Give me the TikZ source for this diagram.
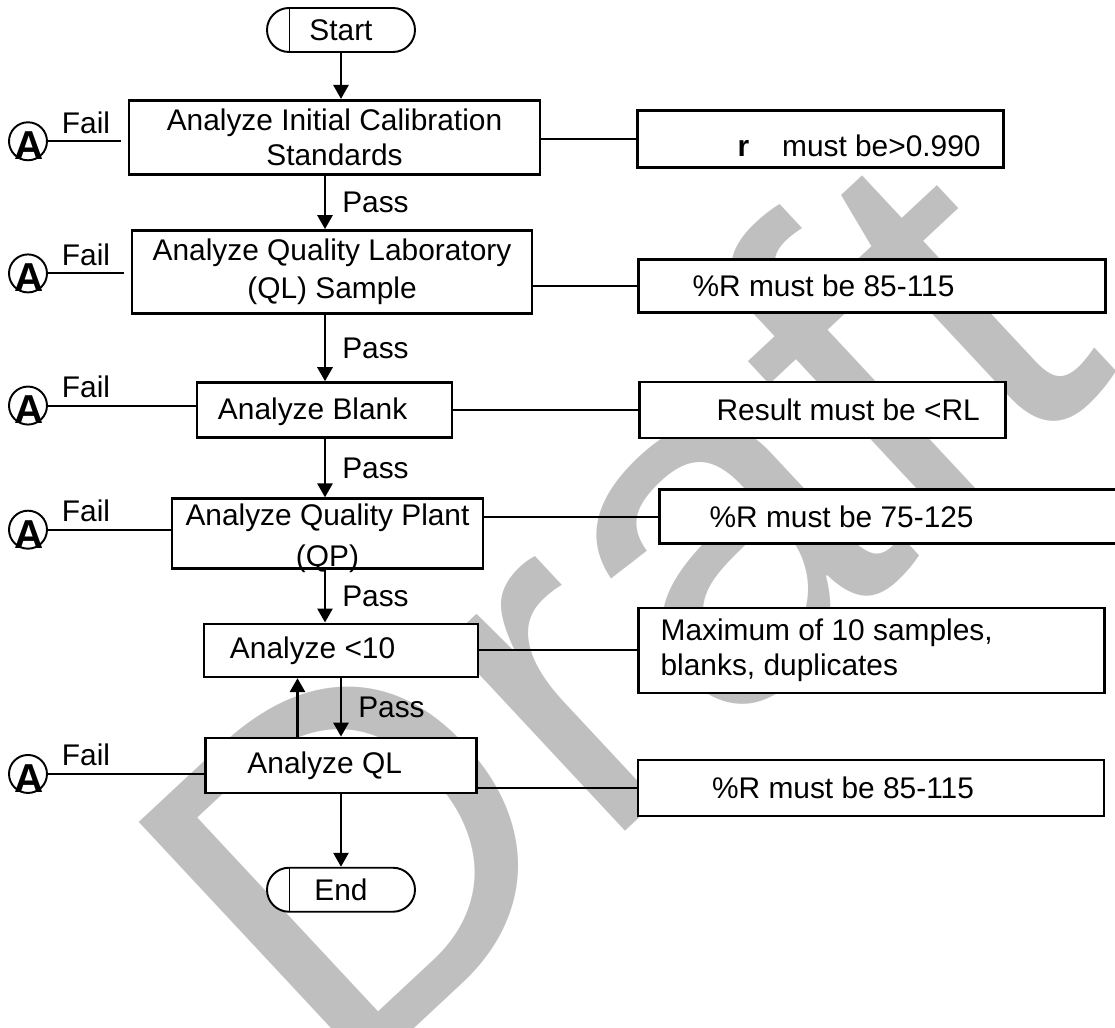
\documentclass[tikz,border=0pt]{standalone}
\usepackage{fontspec}
\setmainfont{Liberation Sans}
\usetikzlibrary{positioning,arrows.meta,calc}

\begin{document}
\begin{tikzpicture}[
    node distance=1cm and 2cm,
    box/.style={rectangle, draw, fill=white, line width=1.5pt, align=center, inner sep=0pt,
                font=\fontsize{17}{20.5}\selectfont},
    lbox/.style={box, align=flush left},
    term/.style={rectangle, rounded corners=0.44cm, draw, fill=white, line width=1.1pt,
                 minimum width=2.96cm, minimum height=0.88cm, font=\fontsize{17}{20}\selectfont,
                 path picture={\draw[line width=0.5pt] ([xshift=0.44cm]path picture bounding box.north west)
                   -- ([xshift=0.44cm]path picture bounding box.south west);}},
    conn/.style={circle, draw, line width=1.1pt, minimum size=0.76cm, inner sep=0pt,
                 label={[font=\fontsize{23}{23}\selectfont\bfseries, yshift=-0.09cm, xshift=0.02cm]center:A}},
    arr/.style={-{Triangle[length=0.28cm, width=0.3cm]}, line width=1.6pt},
    wire/.style={line width=1.1pt},
    pass/.style={font=\fontsize{17}{20}\selectfont, right=0.2cm},
    fail/.style={font=\fontsize{17}{20}\selectfont, anchor=south west, inner sep=0pt, xshift=0.26cm, yshift=0.14cm},
    wmark/.style={text=black!25, font=\fontsize{280}{280}\selectfont, rotate=43}]
    \useasboundingbox (-6.82,0.6) rectangle (15.48,-19.96);
    \clip (-6.82,0.6) rectangle (15.48,-19.96);
    \node[wmark] (wm) at (5.4,-11.5) {Draft};
    \node[term] (st) {Start};
    \node[box, below=0.92cm of st, xshift=-0.13cm, minimum width=8.22cm, minimum height=1.48cm,
          font=\fontsize{17}{20}\selectfont] (b1) {Analyze Initial Calibration\\Standards};
    \node[box, below=1.07cm of b1, xshift=-0.05cm, minimum width=8cm, minimum height=1.66cm,
          font=\fontsize{17}{21.5}\selectfont] (b2) {Analyze Quality Laboratory\\(QL) Sample};
    \node[lbox, below=1.33cm of b2, xshift=-0.15cm, text width=5.1cm, minimum height=1.1cm,
          text height=14pt] (b3) {\hspace*{0.42cm}Analyze Blank};
    \node[box, below=1.17cm of b3, xshift=0.06cm, minimum width=6.22cm, minimum height=1.4cm,
          font=\fontsize{17}{23.5}\selectfont, text height=37.5pt, text depth=0pt] (b4)
          {Analyze Quality Plant\\(QP)};
    \node[lbox, below=1.05cm of b4, xshift=0.27cm, text width=5.48cm, minimum height=1.06cm] (b5)
          {\hspace*{0.52cm}Analyze <10};
    \node[lbox, below=1.17cm of b5, text width=5.42cm, minimum height=1.1cm] (b6)
          {\hspace*{0.84cm}Analyze QL};
    \node[term, below=1.45cm of b6] (en) {End};
    \node[lbox, right=1.9cm of b1, yshift=-0.03cm, text width=7.32cm, minimum height=1.14cm,
          text height=20pt, text depth=0pt] (r1) {\hspace*{2.0cm}\textbf{r}\hspace{1.1em}must be>0.990};
    \node[lbox, right=2.08cm of b2, yshift=-0.28cm, text width=9.34cm, minimum height=1.06cm] (r2)
          {\hspace*{1.08cm}\%R must be 85-115};
    \node[lbox, right=3.7cm of b3, text width=7.32cm, minimum height=1.12cm] (r3)
          {\hspace*{1.54cm}Result must be <RL};
    \node[lbox, right=3.48cm of b4, yshift=0.34cm, text width=9.66cm, minimum height=1.08cm] (r4)
          {\hspace*{1cm}\%R must be 75-125};
    \node[lbox, right=3.16cm of b5, text width=8.44cm, inner xsep=0.44cm, minimum height=1.7cm,
          font=\fontsize{17}{20}\selectfont] (r5) {Maximum of 10 samples,\\blanks, duplicates};
    \node[lbox, right=3.18cm of b6, yshift=-0.45cm, text width=9.32cm, minimum height=1.12cm] (r6)
          {\hspace*{1.48cm}\%R must be 85-115};
    \coordinate (spine) at ([xshift=-0.32cm]st.center);
    \coordinate (lft) at ([xshift=-6.26cm]st.center);
    \node[conn] (a1) at ([yshift=-0.08cm]lft |- b1.west) {};
    \node[conn] (a2) at ([yshift=-0.03cm]lft |- b2.west) {};
    \node[conn] (a3) at ([yshift=0.09cm]lft |- b3.west) {};
    \node[conn] (a4) at ([yshift=0.08cm]lft |- b4.west) {};
    \node[conn] (a6) at ([yshift=-0.17cm]lft |- b6.west) {};
    \draw[wire, shorten >=0.14cm] (a1) -- node[fail, at start] {Fail} (a1 -| b1.west);
    \draw[wire, shorten >=0.14cm] (a2) -- node[fail, at start] {Fail} (a2 -| b2.west);
    \draw[wire] (a3) -- node[fail, at start] {Fail} (a3 -| b3.west);
    \draw[wire] (a4) -- node[fail, at start] {Fail} (a4 -| b4.west);
    \draw[wire] (a6) -- node[fail, at start] {Fail} (a6 -| b6.west);
    \draw[wire] (r1.west) -- (r1.west -| b1.east);
    \draw[wire] (r2.west) -- (r2.west -| b2.east);
    \draw[wire] (r3.west) -- (r3.west -| b3.east);
    \draw[wire] (r4.west) -- (r4.west -| b4.east);
    \draw[wire] (r5.west) -- (r5.west -| b5.east);
    \draw[wire] (r6.west) -- (r6.west -| b6.east);
    \draw[arr] (st) -- (st |- b1.north);
    \draw[arr] (b1.south -| spine) -- (b2.north -| spine) node[pass, midway] {Pass};
    \draw[arr] (b2.south -| spine) -- (b3.north -| spine) node[pass, midway] {Pass};
    \draw[arr] (b3.south -| spine) -- (b4.north -| spine) node[pass, midway] {Pass};
    \draw[arr] (b4.south -| spine) -- (b5.north -| spine) node[pass, midway] {Pass};
    \draw[arr] (b5.south) -- (b5.south |- b6.north) node[pass, midway] {Pass};
    \draw[arr] ([xshift=-0.87cm]b6.north) -- ([xshift=-0.87cm]b6.north |- b5.south);
    \draw[arr] (b6) -- (en);
  \end{tikzpicture}
\end{document}
